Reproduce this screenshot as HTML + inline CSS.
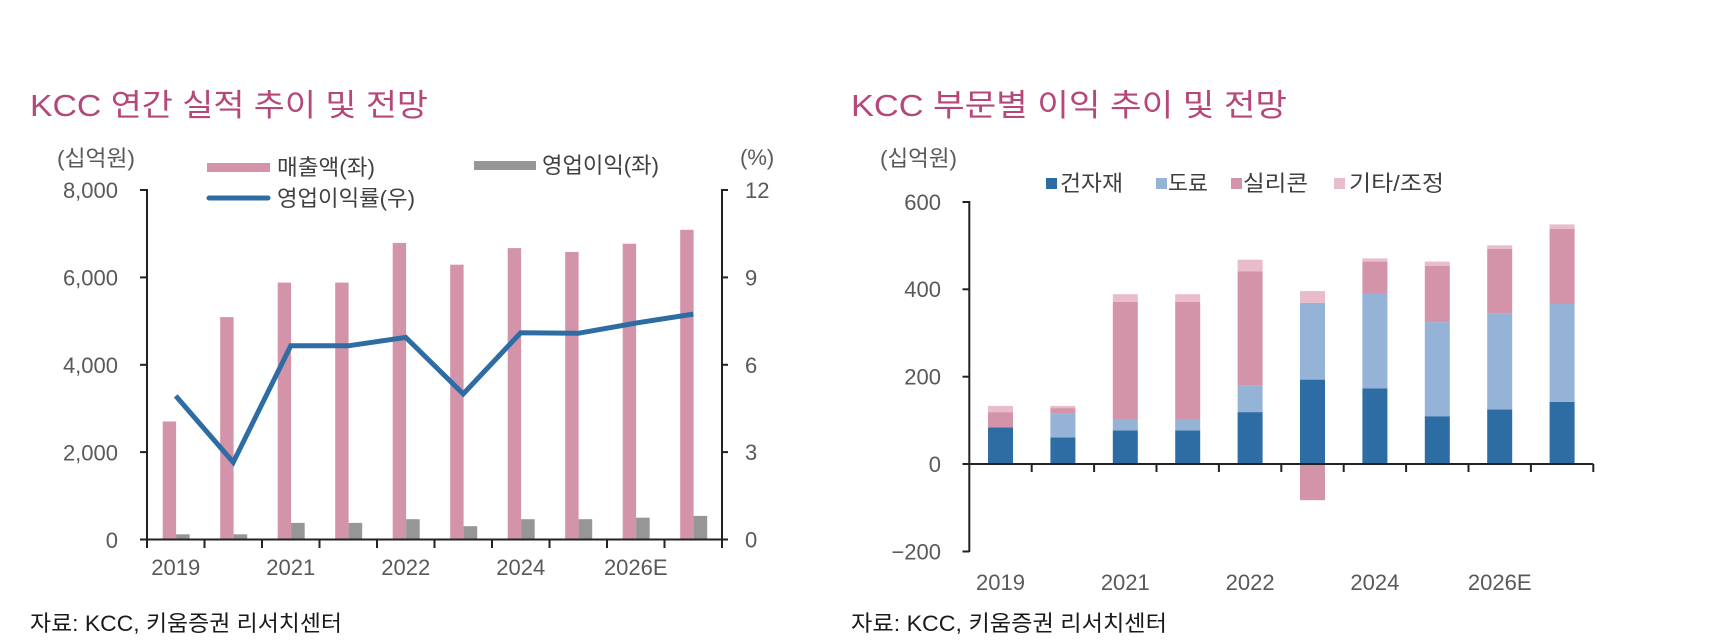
<!DOCTYPE html>
<html><head><meta charset="utf-8"><style>
html,body{margin:0;padding:0;background:#fff;}
svg{display:block;}
text{font-family:"Liberation Sans","Noto Sans CJK KR",sans-serif;}
</style></head><body>
<svg width="1721" height="644" viewBox="0 0 1721 644" xmlns="http://www.w3.org/2000/svg">
<rect width="1721" height="644" fill="#fff"/>
<!-- Titles -->
<text x="30" y="116" font-size="31" fill="#b5477a" textLength="398" lengthAdjust="spacingAndGlyphs">KCC 연간 실적 추이 및 전망</text>
<text x="851" y="116" font-size="31" fill="#b5477a" textLength="436" lengthAdjust="spacingAndGlyphs">KCC 부문별 이익 추이 및 전망</text>

<!-- ===== LEFT CHART ===== -->
<g fill="#595959" font-size="22">
<text x="57" y="166" textLength="78" lengthAdjust="spacingAndGlyphs">(십억원)</text>
<text x="740" y="165">(%)</text>
<g text-anchor="end">
<text x="118" y="198">8,000</text>
<text x="118" y="285.6">6,000</text>
<text x="118" y="373">4,000</text>
<text x="118" y="460.6">2,000</text>
<text x="118" y="548">0</text>
</g>
<text x="745" y="198">12</text>
<text x="745" y="285.4">9</text>
<text x="745" y="372.8">6</text>
<text x="745" y="460.1">3</text>
<text x="745" y="547.5">0</text>
<g text-anchor="middle">
<text x="175.75" y="575">2019</text>
<text x="290.75" y="575">2021</text>
<text x="405.75" y="575">2022</text>
<text x="520.75" y="575">2024</text>
<text x="635.75" y="575">2026E</text>
</g>
</g>
<!-- legend -->
<rect x="207" y="163" width="63" height="9" fill="#d393a8"/>
<text x="277" y="175" font-size="22" fill="#404040" textLength="98" lengthAdjust="spacingAndGlyphs">매출액(좌)</text>
<rect x="474" y="161" width="62" height="9" fill="#969696"/>
<text x="542" y="173" font-size="22" fill="#404040" textLength="117" lengthAdjust="spacingAndGlyphs">영업이익(좌)</text>
<line x1="209" y1="198" x2="268" y2="198" stroke="#2e6ca4" stroke-width="5" stroke-linecap="round"/>
<text x="277" y="206" font-size="22" fill="#404040" textLength="138" lengthAdjust="spacingAndGlyphs">영업이익률(우)</text>

<!-- bars pink -->
<g fill="#d393a8">
<rect x="162.7" y="421.5" width="13.4" height="118"/>
<rect x="220.2" y="317.1" width="13.4" height="222.4"/>
<rect x="277.7" y="282.6" width="13.4" height="256.9"/>
<rect x="335.2" y="282.6" width="13.4" height="256.9"/>
<rect x="392.7" y="242.9" width="13.4" height="296.6"/>
<rect x="450.2" y="264.7" width="13.4" height="274.8"/>
<rect x="507.7" y="248.1" width="13.4" height="291.4"/>
<rect x="565.2" y="252.0" width="13.4" height="287.5"/>
<rect x="622.7" y="243.7" width="13.4" height="295.8"/>
<rect x="680.2" y="229.8" width="13.4" height="309.7"/>
</g>
<g fill="#969696">
<rect x="176.1" y="534.3" width="13.6" height="5.2"/>
<rect x="233.6" y="534.3" width="13.6" height="5.2"/>
<rect x="291.1" y="522.9" width="13.6" height="16.6"/>
<rect x="348.6" y="522.9" width="13.6" height="16.6"/>
<rect x="406.1" y="519.2" width="13.6" height="20.3"/>
<rect x="463.6" y="526.2" width="13.6" height="13.3"/>
<rect x="521.1" y="519.2" width="13.6" height="20.3"/>
<rect x="578.6" y="519.2" width="13.6" height="20.3"/>
<rect x="636.1" y="517.7" width="13.6" height="21.8"/>
<rect x="693.6" y="515.9" width="13.6" height="23.6"/>
</g>
<polyline fill="none" stroke="#2e6ca4" stroke-width="5" stroke-linejoin="miter" points="175.75,395.9 233.25,462.3 290.75,345.8 348.25,345.8 405.75,337.4 463.25,393.9 520.75,332.7 578.25,333.3 635.75,323.1 693.25,314.1"/>
<!-- axes -->
<g stroke="#222" stroke-width="2" fill="none">
<polyline points="140,190 147,190 147,539.5 722,539.5 722,190 728,190"/>
<line x1="140" y1="277.4" x2="147" y2="277.4"/>
<line x1="140" y1="364.8" x2="147" y2="364.8"/>
<line x1="140" y1="452.1" x2="147" y2="452.1"/>
<line x1="140" y1="539.5" x2="147" y2="539.5"/>
<line x1="722" y1="277.4" x2="728" y2="277.4"/>
<line x1="722" y1="364.8" x2="728" y2="364.8"/>
<line x1="722" y1="452.1" x2="728" y2="452.1"/>
<line x1="722" y1="539.5" x2="728" y2="539.5"/>
<line x1="147" y1="539.5" x2="147" y2="548"/>
<line x1="204.5" y1="539.5" x2="204.5" y2="548"/>
<line x1="262" y1="539.5" x2="262" y2="548"/>
<line x1="319.5" y1="539.5" x2="319.5" y2="548"/>
<line x1="377" y1="539.5" x2="377" y2="548"/>
<line x1="434.5" y1="539.5" x2="434.5" y2="548"/>
<line x1="492" y1="539.5" x2="492" y2="548"/>
<line x1="549.5" y1="539.5" x2="549.5" y2="548"/>
<line x1="607" y1="539.5" x2="607" y2="548"/>
<line x1="664.5" y1="539.5" x2="664.5" y2="548"/>
<line x1="722" y1="539.5" x2="722" y2="548"/>
</g>

<!-- ===== RIGHT CHART ===== -->
<g fill="#595959" font-size="22">
<text x="880" y="166" textLength="77" lengthAdjust="spacingAndGlyphs">(십억원)</text>
<g text-anchor="end">
<text x="941" y="210">600</text>
<text x="941" y="297">400</text>
<text x="941" y="384.7">200</text>
<text x="941" y="472">0</text>
<text x="941" y="559.5">−200</text>
</g>
<g text-anchor="middle">
<text x="1000.5" y="590">2019</text>
<text x="1125.3" y="590">2021</text>
<text x="1250.1" y="590">2022</text>
<text x="1374.9" y="590">2024</text>
<text x="1499.7" y="590">2026E</text>
</g>
</g>
<!-- legend -->
<rect x="1046" y="178" width="11" height="11" fill="#2e6ca4"/>
<text x="1060" y="191" font-size="22" fill="#404040" textLength="63" lengthAdjust="spacingAndGlyphs">건자재</text>
<rect x="1156" y="178" width="11" height="11" fill="#95b3d7"/>
<text x="1168" y="191" font-size="22" fill="#404040" textLength="40" lengthAdjust="spacingAndGlyphs">도료</text>
<rect x="1231" y="178" width="11" height="11" fill="#d393a8"/>
<text x="1243" y="191" font-size="22" fill="#404040" textLength="65" lengthAdjust="spacingAndGlyphs">실리콘</text>
<rect x="1334" y="178" width="11" height="11" fill="#e8bccb"/>
<text x="1349" y="191" font-size="22" fill="#404040" textLength="95" lengthAdjust="spacingAndGlyphs">기타/조정</text>

<!-- stacked bars -->
<g>
<!-- 2019 -->
<rect x="988" y="427.3" width="25" height="36.7" fill="#2e6ca4"/>
<rect x="988" y="412.1" width="25" height="15.2" fill="#d393a8"/>
<rect x="988" y="405.9" width="25" height="6.2" fill="#e8bccb"/>
<!-- 2020 -->
<rect x="1050.4" y="437.4" width="25" height="26.6" fill="#2e6ca4"/>
<rect x="1050.4" y="413.4" width="25" height="24" fill="#95b3d7"/>
<rect x="1050.4" y="408.1" width="25" height="5.3" fill="#d393a8"/>
<rect x="1050.4" y="405.9" width="25" height="2.2" fill="#e8bccb"/>
<!-- 2021 -->
<rect x="1112.8" y="430.4" width="25" height="33.6" fill="#2e6ca4"/>
<rect x="1112.8" y="419" width="25" height="11.4" fill="#95b3d7"/>
<rect x="1112.8" y="301.8" width="25" height="117.2" fill="#d393a8"/>
<rect x="1112.8" y="294.2" width="25" height="7.6" fill="#e8bccb"/>
<!-- 2022 -->
<rect x="1175.2" y="430.4" width="25" height="33.6" fill="#2e6ca4"/>
<rect x="1175.2" y="419" width="25" height="11.4" fill="#95b3d7"/>
<rect x="1175.2" y="301.8" width="25" height="117.2" fill="#d393a8"/>
<rect x="1175.2" y="294.2" width="25" height="7.6" fill="#e8bccb"/>
<!-- 2023 -->
<rect x="1237.6" y="412.1" width="25" height="51.9" fill="#2e6ca4"/>
<rect x="1237.6" y="385.4" width="25" height="26.7" fill="#95b3d7"/>
<rect x="1237.6" y="271.5" width="25" height="113.9" fill="#d393a8"/>
<rect x="1237.6" y="259.7" width="25" height="11.8" fill="#e8bccb"/>
<!-- 2024 -->
<rect x="1300" y="379.6" width="25" height="84.4" fill="#2e6ca4"/>
<rect x="1300" y="302.9" width="25" height="76.7" fill="#95b3d7"/>
<rect x="1300" y="291.1" width="25" height="11.8" fill="#e8bccb"/>
<rect x="1300" y="464" width="25" height="36.2" fill="#d393a8"/>
<!-- 2025 -->
<rect x="1362.4" y="388.5" width="25" height="75.5" fill="#2e6ca4"/>
<rect x="1362.4" y="293.5" width="25" height="95" fill="#95b3d7"/>
<rect x="1362.4" y="261.6" width="25" height="31.9" fill="#d393a8"/>
<rect x="1362.4" y="258.4" width="25" height="3.2" fill="#e8bccb"/>
<!-- 2026 -->
<rect x="1424.8" y="416.2" width="25" height="47.8" fill="#2e6ca4"/>
<rect x="1424.8" y="322.1" width="25" height="94.1" fill="#95b3d7"/>
<rect x="1424.8" y="266" width="25" height="56.1" fill="#d393a8"/>
<rect x="1424.8" y="261.6" width="25" height="4.4" fill="#e8bccb"/>
<!-- 2027 -->
<rect x="1487.2" y="409.4" width="25" height="54.6" fill="#2e6ca4"/>
<rect x="1487.2" y="313.8" width="25" height="95.6" fill="#95b3d7"/>
<rect x="1487.2" y="249" width="25" height="64.8" fill="#d393a8"/>
<rect x="1487.2" y="245.3" width="25" height="3.7" fill="#e8bccb"/>
<!-- 2028 -->
<rect x="1549.6" y="401.8" width="25" height="62.2" fill="#2e6ca4"/>
<rect x="1549.6" y="303.5" width="25" height="98.3" fill="#95b3d7"/>
<rect x="1549.6" y="228.7" width="25" height="74.8" fill="#d393a8"/>
<rect x="1549.6" y="224.4" width="25" height="4.3" fill="#e8bccb"/>
</g>
<!-- axes -->
<g stroke="#222" stroke-width="2" fill="none">
<polyline points="962.5,202 969.3,202 969.3,552"/>
<line x1="962.5" y1="289.3" x2="969.3" y2="289.3"/>
<line x1="962.5" y1="376.7" x2="969.3" y2="376.7"/>
<line x1="962.5" y1="464" x2="969.3" y2="464"/>
<line x1="962.5" y1="551.5" x2="969.3" y2="551.5"/>
<line x1="969.3" y1="464" x2="1593.3" y2="464"/>
<line x1="1031.7" y1="464" x2="1031.7" y2="472"/>
<line x1="1094.1" y1="464" x2="1094.1" y2="472"/>
<line x1="1156.5" y1="464" x2="1156.5" y2="472"/>
<line x1="1218.9" y1="464" x2="1218.9" y2="472"/>
<line x1="1281.3" y1="464" x2="1281.3" y2="472"/>
<line x1="1343.7" y1="464" x2="1343.7" y2="472"/>
<line x1="1406.1" y1="464" x2="1406.1" y2="472"/>
<line x1="1468.5" y1="464" x2="1468.5" y2="472"/>
<line x1="1530.9" y1="464" x2="1530.9" y2="472"/>
<line x1="1593.3" y1="464" x2="1593.3" y2="472"/>
</g>

<!-- footnotes -->
<text x="30" y="631" font-size="22" fill="#1a1a1a" textLength="312" lengthAdjust="spacingAndGlyphs">자료: KCC, 키움증권 리서치센터</text>
<text x="851" y="631" font-size="22" fill="#1a1a1a" textLength="316" lengthAdjust="spacingAndGlyphs">자료: KCC, 키움증권 리서치센터</text>
</svg>
</body></html>
